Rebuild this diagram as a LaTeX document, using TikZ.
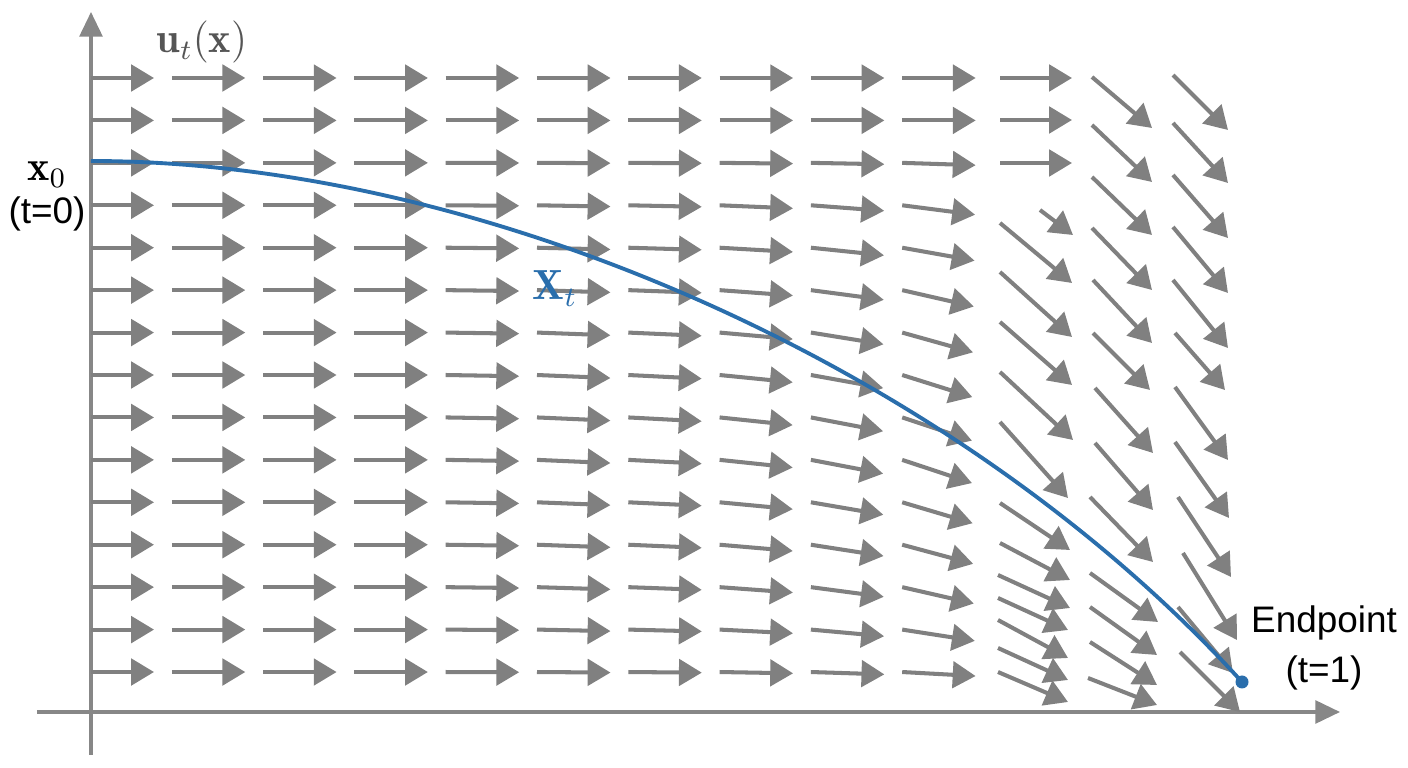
\documentclass[tikz,border=0pt]{standalone}
\usepackage{fontspec}
\newfontfamily\labelfont{Liberation Sans}
\usetikzlibrary{arrows.meta}
\definecolor{fieldgray}{RGB}{128,128,128}
\definecolor{axisgray}{RGB}{135,135,135}
\definecolor{pathblue}{RGB}{42,110,172}
\definecolor{labelgray}{RGB}{85,85,85}
\tikzstyle{axis} = [
    axisgray,
    line width=0.9pt,
    -{Triangle[length=7pt,width=6.5pt]}
]
\tikzstyle{field} = [
    fieldgray,
    line width=1.15pt,
    -{Triangle[length=6.5pt,width=7.5pt]}
]
\tikzstyle{trajectory} = [pathblue, line width=1.1pt]
\tikzstyle{mathlabel} = [font=\large]
\tikzstyle{textlabel} = [font=\labelfont\fontsize{10.5}{12}\selectfont]

\begin{document}
\begin{tikzpicture}

\useasboundingbox (-0.91,-0.56) rectangle (13.17,7.12);

% axes
\coordinate (ybottom) at (0,-0.43);
\coordinate (ytop) at (0,7.0);
\coordinate (xleft) at (-0.54,0);
\coordinate (xright) at (12.49,0);
\draw [axis] (ybottom) -- (ytop);
\draw [axis] (xleft) -- (xright);

% velocity field, regular part
\foreach \i/\pk in {0/0,1/0,2/0,3/0,4/1,5/2.5,6/3,7/6,8/10.8,9/18.4} {
  \foreach \j/\r in {0/0,1/0,2/0.1,3/0.4,4/0.55,5/0.7,6/0.85,7/0.95,
                     8/1,9/1,10/0.9,11/0.82,12/0.7,13/0.48,14/0.17} {
    \pgfmathsetmacro{\ang}{-\pk*\r}
    \pgfmathsetmacro{\xs}{max(0,-0.105+0.913*\i)}
    \pgfmathsetmacro{\len}{0.735-(\xs-(-0.105+0.913*\i))}
    \draw [field] (\xs,6.34-0.4243*\j) -- ++(\ang:\len);
  }
}

% velocity field, right-hand columns
\foreach \xa/\ya/\xb/\yb in {
    9.09/6.34/9.81/6.34, 9.09/5.92/9.81/5.92, 9.09/5.49/9.81/5.49,
    9.49/5.02/9.82/4.77, 9.09/4.89/9.81/4.29, 9.09/4.40/9.81/3.75,
    9.09/3.90/9.81/3.27, 9.09/3.40/9.82/2.72, 9.09/2.90/9.77/2.14,
    9.09/2.09/9.79/1.62, 9.09/1.69/9.79/1.32, 9.07/1.37/9.79/1.04,
    9.07/1.14/9.77/0.82, 9.07/0.92/9.77/0.54, 9.07/0.64/9.77/0.32,
    9.07/0.40/9.77/0.10} {
  \draw [field] (\xa,\ya) -- (\xb,\yb);
}
\foreach \xa/\ya/\xb/\yb in {
    10.01/6.35/10.61/5.84, 10.01/5.87/10.61/5.30, 10.01/5.35/10.61/4.77,
    10.01/4.84/10.61/4.22, 10.02/4.32/10.61/3.69, 10.02/3.79/10.59/3.22,
    10.04/3.24/10.62/2.59, 10.04/2.69/10.62/2.02, 9.99/2.15/10.62/1.50,
    9.99/1.39/10.67/0.90, 9.99/1.05/10.66/0.57, 9.99/0.70/10.66/0.27,
    9.97/0.34/10.66/0.07} {
  \draw [field] (\xa,\ya) -- (\xb,\yb);
}
\foreach \xa/\ya/\xb/\yb in {
    10.82/6.37/11.37/5.82, 10.82/5.89/11.37/5.29, 10.82/5.37/11.37/4.74,
    10.82/4.85/11.37/4.19, 10.82/4.32/11.37/3.64, 10.84/3.79/11.34/3.22,
    10.84/3.25/11.37/2.52, 10.84/2.70/11.38/1.94, 10.87/2.15/11.40/1.35,
    10.92/1.59/11.46/0.72, 10.87/1.05/11.42/0.39, 10.89/0.60/11.49/0.00} {
  \draw [field] (\xa,\ya) -- (\xb,\yb);
}

% trajectory
\coordinate (xstart) at (0,5.51);
\coordinate (xend) at (11.51,0.30);
\draw [trajectory] (xstart) .. controls (4.0,5.51) and (8.7,3.39) .. (xend);
\node (enddot) [circle, fill=pathblue, inner sep=0pt, minimum size=0.13cm] at (xend) {};

% labels
\node (ulabel) [mathlabel, labelgray, anchor=base] at (1.11,6.59) {$\mathbf{u}_t(\mathbf{x})$};
\node (xzero) [mathlabel, anchor=base] at (-0.44,5.31) {$\mathbf{x}_0$};
\node (tzero) [textlabel, below of=xzero, node distance=0.39cm] {(t=0)};
\node (xtlabel) [mathlabel, pathblue, anchor=base] at (4.64,4.12) {$\mathbf{X}_t$};
\node (endlabel) [textlabel, anchor=base] at (12.33,0.79) {Endpoint};
\node (tone) [textlabel, below of=endlabel, node distance=0.49cm] {(t=1)};

\end{tikzpicture}
\end{document}
